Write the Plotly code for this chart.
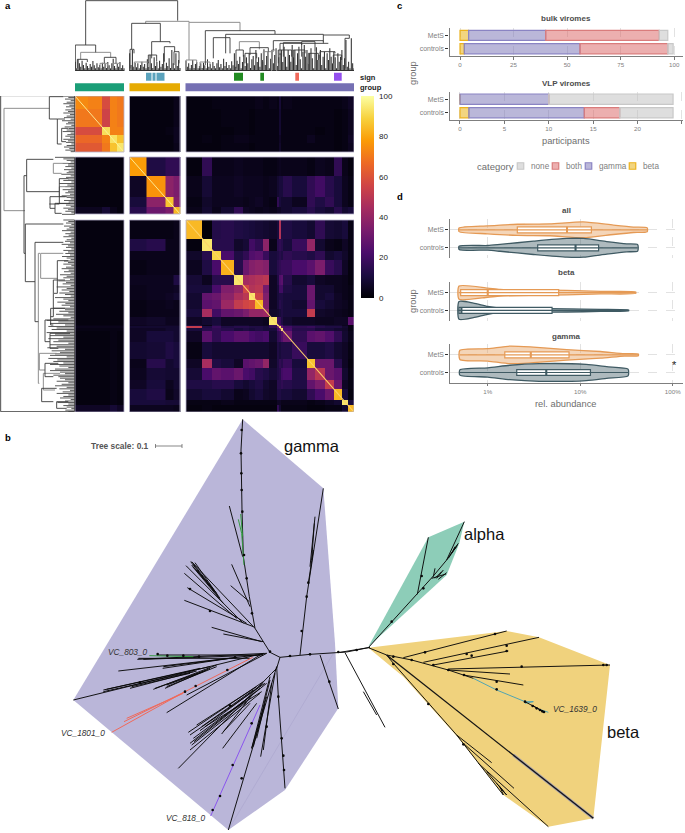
import plotly.graph_objects as go
import numpy as np

W, H = 685, 833
FONT = "Liberation Sans"

# ---------- panel a: heat map blocks ----------
green_x_edges = [75, 88, 102, 110, 117, 124]
green_y_edges = [96, 109, 127, 135, 143, 152]
orange_x_edges = [129.5, 146, 165, 173, 180]
orange_y_edges = [157, 176, 197, 207, 214]
purple_x_edges = [186, 202, 212, 221, 234, 243, 248.5, 255, 263, 269, 277, 279, 281, 283, 292, 307, 315, 325, 334, 342, 348, 354]
purple_y_edges = [220, 239, 251, 260, 275, 285, 293, 300, 309, 317, 325, 326, 328, 331, 342, 359, 368, 380, 389, 400, 405, 412]

green_green = [
    [74, 72, 58, 72, 70],
    [70, 70, 55, 72, 70],
    [58, 58, 92, 72, 72],
    [66, 66, 72, 93, 86],
    [62, 62, 70, 86, 94],
]
green_orange = [[2, 2, 2, 4], [2, 2, 2, 4], [2, 2, 3, 5], [2, 2, 2, 5], [2, 2, 2, 4]]
green_purple = [
    [2, 2, 3, 3, 3, 3, 3, 4, 3, 4, 3, 9, 3, 4, 3, 3, 3, 3, 3, 4, 6],
    [2, 2, 2, 3, 3, 3, 2, 3, 3, 3, 3, 8, 3, 3, 3, 3, 3, 3, 2, 3, 5],
    [2, 2, 2, 2, 3, 3, 2, 3, 3, 3, 3, 8, 3, 3, 3, 3, 2, 3, 2, 3, 5],
    [2, 3, 2, 3, 4, 4, 3, 3, 3, 3, 3, 6, 3, 3, 3, 5, 3, 3, 2, 3, 6],
    [2, 2, 2, 3, 3, 3, 2, 3, 3, 3, 3, 7, 3, 3, 3, 3, 3, 3, 2, 3, 5],
]
orange_green = [[2, 2, 2, 2, 2], [2, 2, 2, 2, 2], [2, 2, 2, 2, 2], [5, 5, 9, 4, 2]]
orange_orange = [[78, 12, 16, 16], [6, 76, 38, 34], [10, 38, 86, 36], [14, 30, 34, 84]]
orange_purple = [
    [2, 16, 4, 4, 5, 4, 4, 4, 3, 3, 4, 5, 4, 4, 4, 3, 5, 4, 16, 4, 2],
    [4, 9, 5, 5, 6, 5, 5, 5, 4, 5, 8, 10, 10, 14, 10, 16, 20, 14, 10, 5, 3],
    [3, 7, 5, 5, 5, 4, 5, 6, 4, 3, 16, 10, 8, 8, 5, 16, 12, 16, 10, 5, 3],
    [4, 8, 4, 8, 16, 6, 5, 4, 5, 4, 6, 6, 8, 8, 10, 14, 10, 8, 14, 8, 10],
]
purple_green = [[2, 2, 2, 2, 2]] * 10 + [[3, 3, 3, 3, 3], [4, 4, 4, 4, 4], [3, 3, 3, 3, 3]] + [[2, 2, 2, 3, 2]] * 7 + [[6, 6, 6, 9, 6]]
purple_orange = [
    [3, 3, 3, 4], [12, 14, 4, 4], [4, 4, 4, 4], [3, 4, 4, 4], [5, 5, 5, 12], [4, 5, 5, 6], [4, 5, 6, 8],
    [3, 4, 5, 4], [3, 4, 4, 4], [6, 7, 5, 5], [5, 6, 6, 6], [8, 8, 8, 8], [6, 6, 8, 8], [6, 10, 10, 8],
    [8, 9, 12, 10], [4, 14, 8, 10], [5, 9, 8, 8], [6, 10, 5, 8], [10, 12, 4, 7], [10, 10, 9, 9], [5, 5, 5, 4],
]
purple_purple = [
    [84, 1, 13, 14, 12, 11, 10, 9, 8, 7, 10, 48, 12, 12, 10, 8, 16, 9, 8, 10, 3],
    [2, 94, 14, 14, 7, 9, 20, 16, 38, 4, 14, 16, 14, 10, 18, 40, 8, 4, 3, 6, 3],
    [7, 14, 90, 22, 12, 16, 24, 26, 18, 10, 12, 14, 12, 16, 14, 12, 16, 8, 10, 7, 3],
    [5, 12, 22, 82, 14, 30, 36, 38, 36, 10, 14, 16, 18, 18, 22, 26, 34, 18, 14, 6, 2],
    [9, 5, 14, 14, 94, 44, 46, 48, 50, 6, 12, 24, 26, 14, 8, 10, 6, 5, 5, 4, 2],
    [10, 10, 22, 35, 40, 56, 48, 50, 32, 6, 10, 20, 20, 12, 10, 30, 8, 8, 5, 4, 3],
    [8, 28, 30, 38, 46, 50, 94, 55, 35, 6, 10, 12, 12, 10, 10, 30, 8, 10, 6, 4, 3],
    [8, 26, 28, 42, 52, 56, 58, 84, 36, 6, 10, 14, 12, 10, 8, 28, 10, 8, 6, 5, 3],
    [10, 45, 20, 28, 30, 34, 40, 40, 42, 7, 8, 10, 12, 10, 10, 52, 7, 6, 5, 4, 3],
    [6, 8, 10, 6, 6, 6, 6, 6, 5, 94, 20, 18, 12, 8, 6, 6, 5, 5, 6, 6, 26],
    [10, 4, 12, 6, 8, 8, 6, 6, 6, 18, 94, 30, 22, 12, 10, 10, 10, 8, 8, 5, 3],
    [52, 12, 18, 12, 14, 14, 12, 12, 10, 16, 30, 94, 30, 20, 16, 18, 14, 12, 12, 8, 3],
    [10, 14, 16, 14, 10, 12, 10, 12, 10, 10, 22, 30, 94, 22, 14, 14, 10, 10, 8, 7, 3],
    [6, 26, 16, 22, 26, 26, 22, 20, 22, 8, 16, 18, 24, 30, 16, 26, 28, 24, 16, 8, 4],
    [3, 10, 8, 8, 8, 8, 8, 8, 8, 6, 12, 10, 12, 12, 18, 10, 10, 12, 8, 6, 3],
    [6, 45, 12, 10, 6, 26, 28, 30, 40, 7, 12, 16, 14, 18, 10, 86, 30, 30, 14, 6, 2],
    [9, 22, 28, 26, 30, 22, 20, 14, 12, 9, 12, 14, 20, 22, 12, 40, 50, 30, 26, 8, 3],
    [12, 12, 14, 14, 10, 8, 10, 12, 8, 6, 14, 14, 16, 14, 12, 28, 34, 52, 30, 6, 3],
    [8, 10, 10, 8, 4, 5, 8, 10, 7, 6, 12, 12, 10, 10, 8, 16, 22, 30, 84, 10, 2],
    [3, 3, 3, 4, 3, 3, 3, 3, 3, 3, 6, 6, 4, 4, 4, 3, 4, 6, 8, 94, 10],
    [2, 3, 2, 2, 2, 2, 2, 2, 2, 2, 16, 8, 3, 3, 3, 2, 2, 3, 3, 8, 84],
]

sign_cells = [(146, 151.5, "#5ba3bd"), (152.5, 155.5, "#5ba3bd"), (156.5, 164.5, "#5ba3bd"),
              (234, 243, "#228b22"), (260.3, 264, "#228b22"), (295.3, 299, "#f0695a"), (334, 341.7, "#9450ee")]
group_cells = [(75, 124, "#1b9e77"), (129.5, 180, "#e6ab02"), (185.5, 354, "#7570b3")]

# dendrograms, in dendrogram units: (from, to, joint, end of first arm, end of second arm)
top_nodes_dark = [
    (257, 533, 2, 135, 62), (226, 287, 135, 205, 157), (232, 262, 178, 205, 186), (313, 348, 172, 190, 190),
    (395, 481, 70, 148, 125), (390, 402, 148, 205, 160), (455, 510, 125, 175, 130), (445, 470, 165, 190, 185),
    (493, 524, 140, 185, 155), (522, 537, 155, 195, 190), (616, 825, 92, 195, 102), (677, 970, 103, 160, 105),
    (640, 690, 113, 175, 160), (708, 730, 150, 205, 170), (820, 970, 122, 150, 125), (840, 985, 130, 165, 130),
    (850, 905, 128, 170, 135), (835, 875, 150, 190, 170), (880, 915, 150, 175, 160), (905, 945, 125, 170, 155),
    (960, 1005, 155, 175, 160), (925, 955, 160, 190, 180), (1000, 1025, 165, 190, 180), (1035, 1048, 115, 205, 105),
    (970, 1048, 105, 130, 105), (735, 770, 160, 190, 175), (750, 805, 143, 165, 155),
]
top_nodes_light = [
    (242, 332, 157, 178, 172), (300, 322, 190, 205, 200), (340, 360, 190, 205, 198), (437, 567, 64, 70, 67),
    (567, 720, 67, 180, 92), (403, 445, 186, 205, 200), (558, 590, 180, 205, 190), (600, 630, 186, 205, 195),
    (718, 778, 125, 150, 148), (790, 820, 155, 185, 150), (815, 830, 150, 213, 213),
]
left_nodes_dark = [
    (287, 1235, 2, 222, 222), (290, 357, 148, 190, 172), (357, 432, 172, 195, 185), (385, 425, 185, 205, 198),
    (478, 575, 80, 160, 178), (536, 612, 178, 205, 148), (590, 625, 150, 200, 165), (610, 640, 165, 210, 185),
    (527, 760, 72, 80, 76), (672, 845, 76, 190, 105), (727, 965, 105, 190, 115), (782, 880, 172, 205, 162),
    (840, 950, 160, 195, 152), (925, 975, 152, 195, 160), (960, 1025, 135, 205, 150), (1000, 1045, 150, 210, 175),
    (1090, 1130, 135, 175, 160), (1165, 1205, 125, 170, 160), (1205, 1225, 170, 205, 200),
]
left_nodes_light = [
    (325, 632, 12, 148, 75), (760, 1150, 115, 120, 118), (760, 835, 122, 190, 172), (1060, 1110, 118, 170, 135),
    (1120, 1170, 130, 180, 165), (490, 520, 160, 205, 185), (560, 590, 178, 210, 195),
]
top_leaf_green = [185, 205, 178, 190, 200, 182, 195, 205, 188, 198, 204, 192, 200, 183, 196, 205, 190, 202, 195, 205, 188, 200, 192, 204, 186, 196, 205, 190, 176, 198, 205, 192, 200, 186, 204, 196, 205]
top_leaf_orange = [160, 195, 150, 200, 188, 202, 190, 205, 195, 185, 200, 192, 205, 178, 200, 165, 190, 204, 172, 198, 186, 205, 182, 200, 192, 160, 205, 188, 198, 175, 204, 150, 190, 205, 160, 198, 180, 204]
top_leaf_purple = [182, 200, 190, 205, 195, 180, 204, 192, 186, 205, 198, 190, 204, 188, 196, 205, 178, 200, 192, 205, 186, 198, 205, 190, 180, 202, 192, 205, 176, 198, 186, 204, 195, 205, 184, 196,
                   160, 200, 182, 192, 170, 205, 186, 165, 198, 172, 190, 160, 204, 178, 168, 196, 150, 186, 172, 200, 160, 180, 148, 195, 168, 155, 205, 176, 150, 190, 165, 145, 198, 172, 160,
                   150, 186, 140, 170, 200, 150, 165, 185, 135, 172, 150, 195, 160, 140, 178, 205, 155, 135, 170, 150, 190, 160, 145, 175, 205, 158, 142, 180, 165, 150, 195, 170, 155, 205, 160,
                   180, 145, 170, 190, 155, 172, 205, 160, 185, 170, 150, 195, 175, 120, 200, 185, 205, 115, 190, 205]
left_leaf_green = [190, 205, 195, 212, 200, 190, 208, 198, 214, 196, 204, 190, 210, 200, 192, 212, 186, 204, 198, 214, 194, 206, 200, 188, 212, 202, 196, 210, 190, 204, 198, 214, 200, 192, 208, 196, 212]
left_leaf_orange = [165, 190, 200, 212, 188, 204, 196, 214, 192, 206, 200, 184, 212, 198, 204, 190, 214, 178, 202, 196, 212, 188, 204, 196, 210, 185, 200, 212, 192, 206, 170, 198, 212, 190, 204, 196, 214, 186]
left_leaf_purple = [190, 205, 198, 214, 192, 208, 200, 186, 212, 196, 206, 190, 214, 200, 195, 210, 185, 204, 198, 214, 190, 204, 196, 210, 186, 200, 212, 192, 204, 190, 214, 198, 185, 206, 192, 212,
                    180, 200, 190, 210, 175, 198, 188, 212, 170, 200, 185, 208, 178, 195, 212, 165, 190, 205, 172, 196, 185, 210, 160, 195, 178, 205, 168, 190, 212,
                    160, 140, 175, 150, 195, 145, 170, 155, 200, 140, 165, 150, 190, 145, 175, 160, 205, 150, 170, 142, 195, 155, 180, 165, 150, 200, 145, 172, 160, 190, 150, 178, 205, 165, 150, 180, 195, 160, 175,
                    180, 195, 170, 205, 185, 165, 200, 178, 210, 188, 170, 205, 190, 180, 212, 195, 172, 205, 190, 200, 214, 196, 205]

# ---------- panel b: tree ----------
gamma_hull = [(578, 28), (820, 235), (855, 700), (865, 895), (705, 1140), (535, 1260), (70, 870)]
alpha_hull = [(373, 65), (358, 130), (320, 225), (85, 440), (265, 112)]
beta_hull = [(85, 443), (500, 393), (597, 412), (810, 495), (760, 955), (625, 980), (490, 885), (352, 710), (190, 530)]

gamma_black = [
    [(660, 727), (690, 742), (780, 733), (855, 727), (890, 726), (960, 712)],
    [(660, 727), (615, 655), (598, 560), (590, 500), (580, 440), (576, 300), (573, 120), (578, 28)],
    [(578, 440), (538, 288)], [(600, 590), (545, 463)], [(598, 575), (542, 527)],
    [(615, 655), (425, 455)], [(580, 640), (408, 467)], [(560, 625), (403, 490)], [(590, 640), (412, 533)],
    [(610, 650), (403, 571)], [(635, 695), (485, 652)], [(640, 695), (520, 672)], [(500, 550), (430, 462)], [(505, 560), (422, 455)],
    [(520, 580), (428, 470)], [(510, 565), (435, 458)], [(495, 545), (425, 465)], [(490, 540), (440, 480)],
    [(650, 730), (262, 748)], [(640, 733), (205, 783)], [(560, 742), (338, 775)], [(620, 735), (320, 735)],
    [(640, 735), (280, 748)], [(600, 745), (265, 745)], [(540, 745), (340, 770)],
    [(640, 730), (70, 870)], [(450, 775), (160, 840)], [(430, 785), (160, 845)], [(440, 783), (240, 835)],
    [(480, 770), (170, 838)], [(420, 790), (245, 830)], [(500, 770), (350, 830)], [(470, 780), (315, 835)],
    [(500, 765), (310, 838)], [(480, 775), (345, 835)], [(460, 785), (350, 825)], [(630, 735), (350, 908)], [(650, 730), (410, 855)],
    [(690, 742), (680, 775), (665, 790), (385, 1075)], [(640, 815), (415, 967)], [(640, 820), (450, 962)], [(630, 835), (420, 1000)],
    [(630, 850), (420, 1020)], [(610, 850), (515, 972)], [(620, 880), (518, 1015)], [(650, 820), (432, 995)],
    [(620, 830), (440, 945)], [(610, 840), (455, 950)], [(600, 860), (430, 985)], [(590, 875), (425, 1005)], [(600, 880), (520, 965)],
    [(635, 845), (465, 950)], [(645, 820), (420, 975)],
    [(675, 790), (632, 1040)], [(660, 800), (605, 1015)], [(680, 770), (535, 1260)], [(680, 770), (685, 860), (705, 1135)],
    [(660, 810), (610, 1010)], [(665, 820), (640, 1020)], [(650, 860), (605, 1015)], [(645, 880), (620, 985)],
    [(750, 735), (770, 560), (820, 235)], [(780, 470), (795, 320)], [(775, 520), (790, 420)], [(785, 450), (793, 340)], [(810, 735), (865, 897)],
]
gamma_green = [[(582, 465), (575, 370), (565, 328)], [(572, 312), (578, 380)], [(430, 740), (298, 737)]]
gamma_red = [[(608, 742), (405, 845), (185, 967)], [(405, 845), (222, 935)], [(400, 850), (230, 925)]]
gamma_violet = [[(630, 885), (550, 1065), (482, 1218)]]
gamma_nodes = [(575, 60), (573, 130), (574, 190), (575, 240), (577, 305), (582, 435), (590, 505), (606, 610), (660, 725), (720, 738), (780, 733),
               (865, 726), (400, 737), (447, 740), (555, 742), (532, 780), (437, 828), (405, 845), (270, 818), (548, 1065), (510, 1158), (488, 1200),
               (605, 940), (575, 1105), (700, 1037), (702, 1080), (685, 860), (695, 985), (755, 663), (770, 560), (775, 518), (838, 815), (323, 732),
               (352, 737), (480, 603), (420, 537), (540, 887), (650, 950)]
beta_black = [
    [(0, 457), (50, 450), (85, 443), (140, 465), (215, 480), (325, 510), (400, 535)],
    [(15, 458), (135, 682)], [(70, 575), (110, 645)],
    [(85, 443), (232, 283), (280, 228), (320, 180), (373, 65)], [(232, 283), (265, 112)], [(275, 235), (318, 222)],
    [(280, 230), (285, 205)], [(290, 235), (310, 210)], [(320, 180), (355, 130)], [(330, 165), (350, 140)],
    [(295, 238), (320, 218)], [(285, 235), (305, 215)], [(335, 160), (345, 140)], [(325, 175), (352, 135)],
    [(555, 605), (610, 635)], [(575, 615), (615, 637)],
    [(190, 473), (500, 393)], [(250, 487), (597, 412)], [(280, 495), (505, 453)], [(325, 507), (810, 495)],
    [(325, 510), (510, 522)], [(370, 525), (550, 555)],
    [(140, 465), (160, 490), (350, 705), (490, 885)], [(350, 705), (455, 788)], [(370, 730), (522, 865)],
    [(415, 790), (625, 980)], [(440, 815), (500, 885)], [(470, 850), (500, 885)], [(475, 855), (495, 880)], [(480, 860), (490, 885)],
]
beta_nodes = [(50, 450), (160, 470), (215, 480), (280, 495), (325, 510), (372, 525), (470, 545), (545, 500), (790, 495), (800, 495), (255, 457),
              (380, 462), (395, 467), (500, 453), (465, 402), (500, 437), (470, 568), (555, 605), (578, 618), (590, 625), (600, 630), (607, 634),
              (612, 636), (265, 612), (160, 492), (370, 733), (245, 228), (155, 365), (250, 265)]
beta_grey_thick = [[(520, 765), (760, 955)]]
beta_thick = [[(140, 465), (760, 955)]]
beta_cyan = [[(400, 535), (470, 570), (555, 605), (580, 605), (555, 610)], [(590, 625), (625, 637)]]
tree_scale = [(155.5, 182)]

# ---------- panel c ----------
groups = ["controls", "MetS"]
categories = ["beta", "gamma", "both", "none"]
bulk_values = {"beta": [2, 4], "gamma": [54, 36], "both": [41, 53], "none": [2.5, 4]}
vlp_values = {"beta": [1, 0], "gamma": [13, 10], "both": [4, 0], "none": [6, 14]}
bulk_ticks = [0, 25, 50, 75, 100]
vlp_ticks = [0, 5, 10, 15, 20, 25]
legend_order = ["none", "both", "gamma", "beta"]
legend_swatch_x = [520.5, 555.5, 588.5, 632.5]

# ---------- panel d ----------
abundance_ticks = [1, 10, 100]
abundance_labels = ["1%", "10%", "100%"]
viol_all_mets = ([0.49, 1, 2.09, 4.7, 10.8, 22.8, 37.6, 53], [.1, .22, .31, .33, .44, .26, .15, .11])
viol_all_ctrl = ([0.49, 1, 1.36, 3.12, 7.15, 10.8, 19.3, 31.8, 41.8], [.09, .13, .19, .37, .52, .52, .35, .22, .18])
viol_beta_mets = ([0.49, 1, 1.36, 3.12, 7.15, 16.6, 39.8], [.37, .26, .19, .15, .13, .07, .04])
viol_beta_ctrl = ([0.49, 0.7, 1, 1.36, 3.12, 7.15, 16.6, 33.4], [.5, .41, .22, .13, .11, .09, .06, .02])
viol_gamma_mets = ([0.5, 1, 1.74, 3.12, 7.15, 16.6, 30, 42.5], [.26, .35, .5, .44, .3, .19, .07, .05])
viol_gamma_ctrl = ([0.5, 1, 1.74, 3.6, 11.6, 19.3, 32.9], [.15, .26, .41, .5, .46, .33, .19])
box_all_mets = (0.49, 2.09, 7.2, 13.2, 53)
box_all_ctrl = (0.49, 3.47, 8.9, 15.8, 41.8)
box_beta_mets = (0.49, 0.51, 1.0, 5.85, 39.8)
box_beta_ctrl = (0.48, 0.49, 0.52, 4.96, 33.4)
box_gamma_mets = (0.5, 1.53, 2.92, 7.57, 42.5)
box_gamma_ctrl = (0.5, 2.06, 4.3, 12.9, 32.9)

# ---------- helpers ----------
fig = go.Figure()
layout_axes = {}
ax_n = [0]


def axes(x0, x1, y0, y1, xr, yr, **kw):
    ax_n[0] += 1
    n = ax_n[0]
    sx = "" if n == 1 else str(n)
    xa = dict(domain=[x0 / W, x1 / W], range=xr, visible=False, anchor="y" + sx, fixedrange=True)
    ya = dict(domain=[1 - y1 / H, 1 - y0 / H], range=yr, visible=False, anchor="x" + sx, fixedrange=True)
    xa.update(kw.get("x", {}))
    ya.update(kw.get("y", {}))
    layout_axes["xaxis" + sx] = xa
    layout_axes["yaxis" + sx] = ya
    return "x" + sx, "y" + sx


def nodes_horizontal(nodes, base=None):
    xs, ys = [], []
    for a, b, j, e1, e2 in nodes:
        xs += [a, a, b, b, None]
        ys += [e1, j, j, e2, None]
    return xs, ys


def poly(seqs):
    xs, ys = [], []
    for s in seqs:
        xs += [p[0] for p in s] + [None]
        ys += [p[1] for p in s] + [None]
    return xs, ys


def line(xs, ys, xa, ya, color, width, **kw):
    fig.add_trace(go.Scatter(x=xs, y=ys, xaxis=xa, yaxis=ya, mode="lines", showlegend=False, hoverinfo="skip",
                             line=dict(color=color, width=width), **kw))


annots = []


def text(px, py, s, size=8, color="#4d4d4d", bold=False, italic=False, anchor="center", angle=0):
    if bold:
        s = "<b>%s</b>" % s
    if italic:
        s = "<i>%s</i>" % s
    annots.append(dict(x=px / W, y=1 - py / H, xref="paper", yref="paper", text=s, showarrow=False, xanchor=anchor,
                       yanchor="middle", textangle=angle, font=dict(size=size, color=color, family=FONT)))


# ---------- heat map ----------
xhm, yhm = axes(75, 354, 96, 412, [75, 354], [412, 96])


def cell_traces(xe, ye, z):
    fig.add_trace(go.Heatmap(x=xe, y=ye, z=z, coloraxis="coloraxis", xaxis=xhm, yaxis=yhm, hoverinfo="skip", showlegend=False))


for (ye, za, zb, zc) in [(green_y_edges, green_green, green_orange, green_purple),
                         (orange_y_edges, orange_green, orange_orange, orange_purple),
                         (purple_y_edges, purple_green, purple_orange, purple_purple)]:
    cell_traces(green_x_edges, ye, za)
    cell_traces(orange_x_edges, ye, zb)
    cell_traces(purple_x_edges, ye, zc)

# diagonal of each self-similarity block
line([75, 124], [96, 152], xhm, yhm, "#fcf3a0", 0.9)
line([129.5, 180], [157, 214], xhm, yhm, "#fcf3a0", 0.9)
line([186, 354], [220, 412], xhm, yhm, "#fdd26a", 1.1)

# panel frames
shapes = []
for xe in (green_x_edges, orange_x_edges, purple_x_edges):
    for ye in (green_y_edges, orange_y_edges, purple_y_edges):
        shapes.append(dict(type="rect", xref=xhm, yref=yhm, x0=xe[0], x1=xe[-1], y0=ye[0], y1=ye[-1],
                           line=dict(color="#b5b0cc", width=0.8)))

# annotation strips
xan, yan = axes(75, 354, 71.4, 92.6, [75, 354], ["group", "sign"],
                y=dict(type="category", categoryorder="array", categoryarray=["group", "sign"], range=[-0.5, 1.5]))
for row, cells in (("sign", sign_cells), ("group", group_cells)):
    fig.add_trace(go.Bar(orientation="h", y=[row] * len(cells), base=[c[0] for c in cells], x=[c[1] - c[0] for c in cells],
                         width=0.755, marker=dict(color=[c[2] for c in cells], line=dict(width=0)), xaxis=xan, yaxis=yan,
                         showlegend=False, hoverinfo="skip"))

# dendrograms
xtop, ytop = axes(75, 354, 0, 71, [225, 1062], [213, 0])
xleft, yleft = axes(0, 75, 96, 412, [0, 225], [1236, 288])

for leaves, (a, b) in ((top_leaf_green, (226, 372)), (top_leaf_orange, (389, 540)), (top_leaf_purple, (558, 1062))):
    pos = np.linspace(a, b, len(leaves)).tolist()
    xs, ys = [], []
    for p, t in zip(pos, leaves):
        xs += [p, p, None]
        ys += [213, t, None]
    line(xs, ys, xtop, ytop, "#2e2e2e", 1.05)
    line([a, b], [212, 212], xtop, ytop, "#333333", 1.2)
for leaves, (a, b) in ((left_leaf_green, (288, 455)), (left_leaf_orange, (472, 643)), (left_leaf_purple, (660, 1235))):
    pos = np.linspace(a, b, len(leaves)).tolist()
    xs, ys = [], []
    for p, t in zip(pos, leaves):
        xs += [t, 224, None]
        ys += [p, p, None]
    line(xs, ys, xleft, yleft, "#505050", 0.95)
    line([224, 224], [a, b], xleft, yleft, "#333333", 0.9)

xs, ys = nodes_horizontal(top_nodes_light)
line(xs, ys, xtop, ytop, "#8e8e8e", 1.0)
xs, ys = nodes_horizontal(top_nodes_dark)
line(xs, ys, xtop, ytop, "#3a3a3a", 0.9)
for nodes, col, wd in ((left_nodes_light, "#8e8e8e", 1.0), (left_nodes_dark, "#3a3a3a", 0.9)):
    xs, ys = [], []
    for a, b, j, e1, e2 in nodes:
        xs += [e1, j, j, e2, None]
        ys += [a, a, b, b, None]
    line(xs, ys, xleft, yleft, col, wd)

# ---------- tree ----------
xtr, ytr = axes(0, W, 0, H, [0, W], [H, 0])


def g_xy(seqs):
    return [[(50 + p[0] / 3, 410 + p[1] / 3) for p in s] for s in seqs]


def b_xy(seqs):
    return [[(340 + p[0] / 3, 500 + p[1] / 3) for p in s] for s in seqs]


for hull, conv, col in ((gamma_hull, g_xy, "#bab6d9"), (alpha_hull, b_xy, "#8dcdb8"), (beta_hull, b_xy, "#f0d27d")):
    h = conv([hull + [hull[0]]])
    xs, ys = poly(h)
    fig.add_trace(go.Scatter(x=xs[:-1], y=ys[:-1], mode="lines", fill="toself", fillcolor=col, line=dict(width=0, color=col),
                             xaxis=xtr, yaxis=ytr, showlegend=False, hoverinfo="skip"))

xs, ys = poly(g_xy([[(535, 1260), (850, 730)]]))
line(xs, ys, xtr, ytr, "#a9a5cc", 0.6)
xs, ys = poly(b_xy(beta_grey_thick))
line(xs, ys, xtr, ytr, "#a8a2ae", 3.0)

for seqs, col, wd in ((g_xy(gamma_black), "#0a0a0a", 0.95), (g_xy(gamma_green), "#2d9a3a", 0.95), (g_xy(gamma_red), "#f0695a", 1.0),
                      (g_xy(gamma_violet), "#8a55ee", 1.0), (b_xy(beta_cyan), "#3f9fb8", 0.9), (b_xy(beta_black), "#0a0a0a", 0.95),
                      (b_xy(beta_thick), "#141414", 1.3)):
    xs, ys = poly(seqs)
    line(xs, ys, xtr, ytr, col, wd)

for seqs in (g_xy([gamma_nodes]), b_xy([beta_nodes])):
    xs, ys = poly(seqs)
    fig.add_trace(go.Scatter(x=xs, y=ys, mode="markers", marker=dict(size=2.6, color="#0a0a0a"), xaxis=xtr, yaxis=ytr,
                             showlegend=False, hoverinfo="skip"))

# tree scale bar
sb = tree_scale[0]
line([sb[0], sb[0], None, sb[0], sb[1], None, sb[1], sb[1]], [444, 448, None, 446, 446, None, 444, 448], xtr, ytr, "#555555", 0.7)

text(311.7, 445.7, "gamma", size=16.5, color="#111111")
text(484, 534, "alpha", size=16.5, color="#111111")
text(623, 731.7, "beta", size=16.5, color="#111111")
text(120, 446, "Tree scale: 0.1", size=8.4, color="#555555", bold=True)
text(128, 652, "VC_803_0", size=8.3, color="#333333", italic=True)
text(83, 733, "VC_1801_0", size=8.3, color="#333333", italic=True)
text(186, 818, "VC_818_0", size=8.3, color="#333333", italic=True)
text(551, 709, "VC_1639_0", size=8.3, color="#333333", italic=True, anchor="left")

# ---------- panel c ----------
AXCOL = "#7f7f7f"
TICKCOL = "#808080"
GRID = "#e2e2e2"
cat_fill = {"beta": "rgba(230,171,2,0.5)", "gamma": "rgba(117,112,179,0.5)", "both": "rgba(217,95,95,0.5)", "none": "rgba(190,190,190,0.5)"}
cat_line = {"beta": "#ecb21e", "gamma": "#8a84c3", "both": "#d97c7c", "none": "#c8c8c8"}


def cat_axis():
    return dict(visible=True, type="category", categoryorder="array", categoryarray=groups, showline=True, linecolor=AXCOL, linewidth=1.4,
                ticks="outside", ticklen=3, tickcolor="#333333", tickwidth=0.8, tickfont=dict(size=6.9, color=TICKCOL, family=FONT),
                showgrid=False, zeroline=False)


def val_axis(ticks):
    return dict(visible=True, showline=True, linecolor=AXCOL, linewidth=1.4, ticks="outside", ticklen=2.5, tickcolor="#777777",
                tickwidth=0.7, tickvals=ticks, tickfont=dict(size=6.2, color=TICKCOL, family=FONT), showgrid=True, gridcolor=GRID,
                griddash="dash", gridwidth=0.8, zeroline=False)


for values, ticks, xr, (y0, y1) in ((bulk_values, bulk_ticks, [-4.9, 104.1], (28, 56)),
                                    (vlp_values, vlp_ticks, [-1.18, 25.12], (91.7, 120))):
    xa, ya = axes(449.5, 683, y0, y1, xr, [-0.54, 1.55], x=val_axis(ticks), y=cat_axis())
    cum = np.zeros(2)
    for c in categories:
        vals = values[c]
        fig.add_trace(go.Bar(orientation="h", y=groups, x=vals, base=cum.tolist(), width=0.76, name=c, showlegend=False,
                             marker=dict(color=cat_fill[c], line=dict(color=cat_line[c], width=1.2)), xaxis=xa, yaxis=ya, hoverinfo="skip"))
        cum = cum + np.array(vals)

text(566, 19, "bulk viromes", size=8, bold=True)
text(566, 83, "VLP viromes", size=8, bold=True)
text(566, 141, "participants", size=9.3, color="#6e6e6e")
text(413, 73, "group", size=9.3, color="#6e6e6e", angle=-90)

# hand-built legend row
fig.add_trace(go.Scatter(x=legend_swatch_x, y=[166] * 4, mode="markers", xaxis=xtr, yaxis=ytr, showlegend=False, hoverinfo="skip",
                         marker=dict(symbol="square", size=6.5, color=[cat_fill[c] for c in legend_order],
                                     line=dict(color=[cat_line[c] for c in legend_order], width=1.2))))
text(475, 166.5, "category", size=9.5, color="#6e6e6e", anchor="left")
for sx_, c in zip(legend_swatch_x, legend_order):
    text(sx_ + 8, 166, c, size=8.2, color=TICKCOL, anchor="left")

# ---------- panel d ----------
MET = "#e59a55"
MET_FILL = "rgba(229,154,85,0.42)"
CTR = "#3f5a63"
CTR_FILL = "rgba(63,90,99,0.42)"
for (y0, y1, mets_v, ctrl_v, mets_b, ctrl_b, bottom) in (
        (219, 258.3, viol_all_mets, viol_all_ctrl, box_all_mets, box_all_ctrl, False),
        (282, 320.7, viol_beta_mets, viol_beta_ctrl, box_beta_mets, box_beta_ctrl, False),
        (344.3, 382.7, viol_gamma_mets, viol_gamma_ctrl, box_gamma_mets, box_gamma_ctrl, True)):
    xaxis_kw = val_axis(abundance_ticks)
    xaxis_kw.update(type="log", ticktext=abundance_labels)
    if not bottom:
        xaxis_kw.update(showline=False, ticks="", showticklabels=False)
    yaxis_kw = dict(visible=True, showline=True, linecolor=AXCOL, linewidth=1.4, ticks="outside", ticklen=3, tickcolor="#333333", tickwidth=0.8,
                    tickvals=[0, 1], ticktext=groups, tickfont=dict(size=6.9, color=TICKCOL, family=FONT), showgrid=True, gridcolor=GRID,
                    griddash="dash", gridwidth=0.8, zeroline=False)
    xa, ya = axes(449.5, 683, y0, y1, [-0.413, 2.111], [-0.58, 1.6], x=xaxis_kw, y=yaxis_kw)
    xb, yb = axes(449.5, 683, y0, y1, [-0.413, 2.111], [-0.58, 1.6], x=dict(type="log"))
    for pos, viol, bx, col, fillc in ((1, mets_v, mets_b, MET, MET_FILL), (0, ctrl_v, ctrl_b, CTR, CTR_FILL)):
        vx, vh = viol
        # smooth each side, then close the blunt ends with straight edges
        up = go.Scatter(x=list(vx), y=[pos + h for h in vh])
        xp = list(vx) + list(vx[::-1]) + [vx[0]]
        yp = [pos + h for h in vh] + [pos - h for h in vh[::-1]] + [pos + vh[0]]
        fig.add_trace(go.Scatter(x=xp, y=yp, mode="lines", fill="toself", fillcolor=fillc,
                                 line=dict(color=col, width=1.3, shape="spline", smoothing=0.6),
                                 xaxis=xa, yaxis=ya, showlegend=False, hoverinfo="skip"))
        line([bx[0], bx[4]], [pos, pos], xb, yb, col, 1.2)
        fig.add_trace(go.Box(orientation="h", y=[pos], lowerfence=[bx[1]], q1=[bx[1]], median=[bx[2]], q3=[bx[3]], upperfence=[bx[3]],
                             width=0.33, whiskerwidth=0, fillcolor="white", line=dict(color=col, width=1.2), xaxis=xb, yaxis=yb,
                             boxpoints=False, showlegend=False, hoverinfo="skip"))
        line([bx[2], bx[2]], [pos - 0.165, pos + 0.165], xb, yb, col, 2.0)

text(566, 210.7, "all", size=8, bold=True)
text(566, 273, "beta", size=8, bold=True)
text(566, 336, "gamma", size=8, bold=True)
text(566, 403.7, "rel. abundance", size=9.3, color="#6e6e6e")
text(413, 301, "group", size=9.3, color="#6e6e6e", angle=-90)
text(674.5, 365, "*", size=11, color="#222222")

# ---------- panel labels ----------
text(3, 5.5, "a", size=9.5, color="#000000", bold=True, anchor="left")
text(3, 437, "b", size=9.5, color="#000000", bold=True, anchor="left")
text(395, 5.5, "c", size=9.5, color="#000000", bold=True, anchor="left")
text(395, 196, "d", size=9.5, color="#000000", bold=True, anchor="left")
text(358, 77, "sign", size=7.5, color="#222222", bold=True, anchor="left")
text(358, 88, "group", size=7.5, color="#222222", bold=True, anchor="left")

fig.update_layout(
    width=W, height=H, autosize=False, margin=dict(l=0, r=0, t=0, b=0, pad=0, autoexpand=False), paper_bgcolor="white", plot_bgcolor="rgba(0,0,0,0)",
    font=dict(family=FONT), barmode="overlay", boxmode="overlay", shapes=shapes, annotations=annots, hovermode=False, showlegend=False,
    coloraxis=dict(colorscale="Inferno", cmin=0, cmax=100,
                   colorbar=dict(thickness=13, thicknessmode="pixels", len=202, lenmode="pixels", x=361 / W, xanchor="left",
                                 y=1 - 96 / H, yanchor="top", xpad=0, ypad=0, tickvals=[0, 20, 40, 60, 80, 100], ticks="outside", ticklen=4,
                                 tickcolor="rgba(0,0,0,0)", outlinewidth=0, tickfont=dict(size=8, color="#222222", family=FONT))),
    **layout_axes,
)

fig.write_html("out.html", post_script="document.body.style.margin='0';", config={"displayModeBar": False})
